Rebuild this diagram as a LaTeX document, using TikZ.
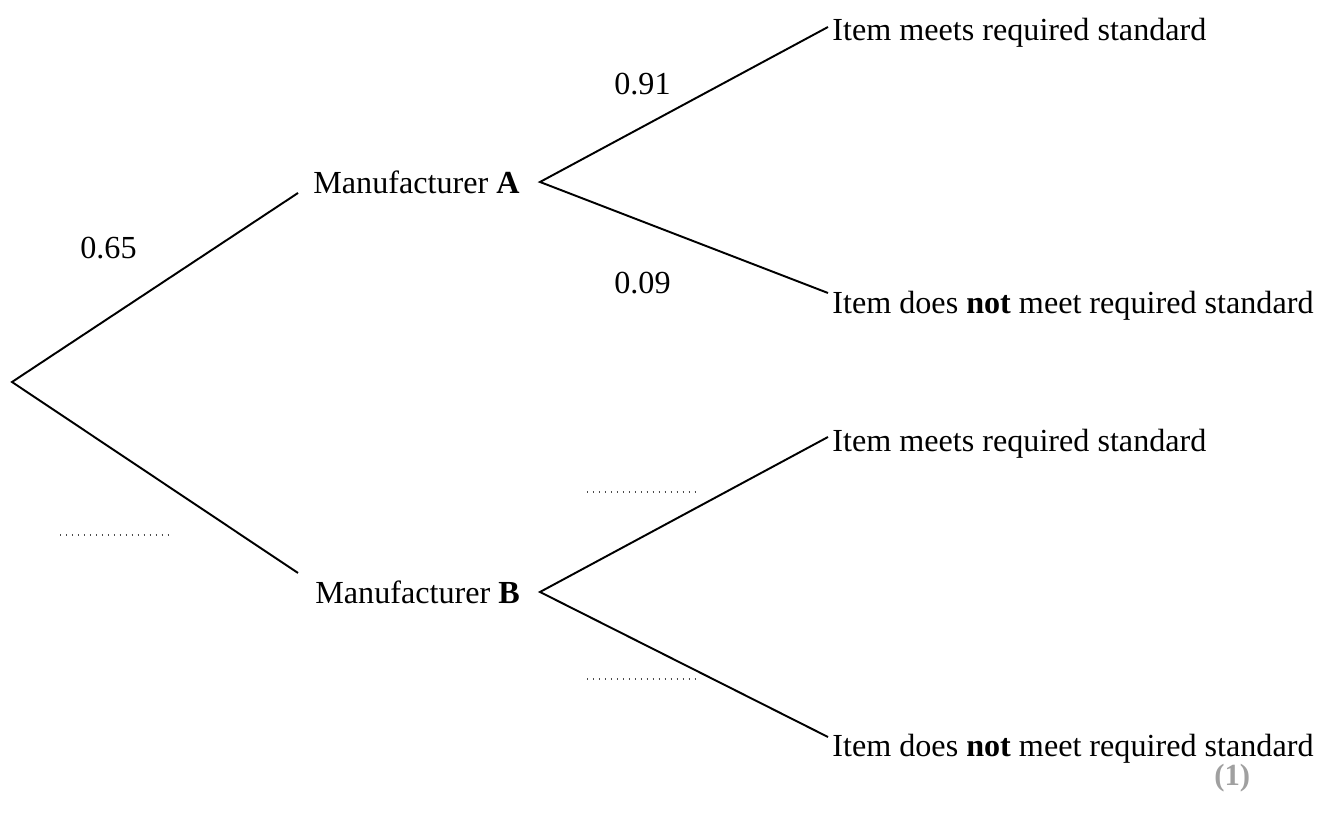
\documentclass[tikz,border=0pt]{standalone}
\usepackage{fontspec}
\setmainfont{Liberation Serif}
\usepackage{tikz}
\usetikzlibrary{positioning}
\definecolor{markgray}{RGB}{160,160,160}
\tikzset{
  branch/.style={line width=1.1pt},
  lbl/.style={anchor=base west,inner sep=0pt,font=\fontsize{18.3}{22}\selectfont},
  blank/.style={line width=1.1pt,dash pattern=on 0.7pt off 2.7pt,black!70}
}

\begin{document}
\begin{tikzpicture}[x=0.02cm,y=-0.02cm]
\useasboundingbox (0,0) rectangle (1320,813);
% junctions
\coordinate (root) at (12,382);
\coordinate (aIn) at (298,193);
\coordinate (bIn) at (298,573);
\coordinate (aOut) at (540,182);
\coordinate (bOut) at (540,592);
\coordinate (aYes) at (828,27);
\coordinate (aNo) at (828,293);
\coordinate (bYes) at (828,437);
\coordinate (bNo) at (828,737);
% branches
\draw[branch] (aIn) -- (root) -- (bIn);
\draw[branch] (aYes) -- (aOut) -- (aNo);
\draw[branch] (bYes) -- (bOut) -- (bNo);
% outcomes
\node[lbl] (manA) at (313,194) {Manufacturer \textbf{A}};
\node[lbl] (manB) at (315,604) {Manufacturer \textbf{B}};
\node[lbl] (aMeet) at (832,41) {Item meets required standard};
\node[lbl] (aFail) at (832,314) {Item does \textbf{not} meet required standard};
\node[lbl] (bMeet) at (832,452) {Item meets required standard};
\node[lbl] (bFail) at (832,757) {Item does \textbf{not} meet required standard};
% probabilities
\node[lbl] (pA) at (80,259) {0.65};
\node[lbl] (pAYes) at (614,95) {0.91};
\node[lbl] (pANo) at (614,294) {0.09};
\coordinate (pB) at (60,535);
\coordinate (pBYes) at (587,492);
\coordinate (pBNo) at (587,679);
\draw[blank] (pB) -- ++(110,0);
\draw[blank] (pBYes) -- ++(110,0);
\draw[blank] (pBNo) -- ++(110,0);
\node[lbl,text=markgray,font=\fontsize{17.5}{20}\selectfont\bfseries] (mark) at (1214,786) {(1)};
\end{tikzpicture}
\end{document}
